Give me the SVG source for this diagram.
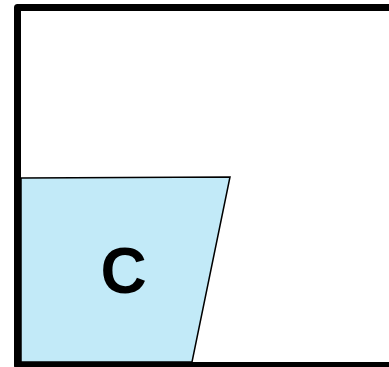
<svg xmlns="http://www.w3.org/2000/svg" width="389" height="367" viewBox="0 0 389 367">
<style>
.frame{fill:none;stroke:#000;stroke-width:7;stroke-linejoin:round}
.zone{fill:#C2EAF8;stroke:#000;stroke-width:1.5}
.lbl{font-family:"Liberation Sans",Arial,sans-serif;font-weight:bold;font-size:64px;fill:#000;text-anchor:middle}
</style>
<rect width="389" height="367" fill="#fff"/>
<g id="zoneC">
<polygon class="zone" points="21,178 230,177 192,362 21,362"/>
<text class="lbl" x="123.5" y="293">C</text>
</g>
<g id="frame">
<path class="frame" d="M400,7.5 H17.5 V365.5 H400"/>
</g>
</svg>
